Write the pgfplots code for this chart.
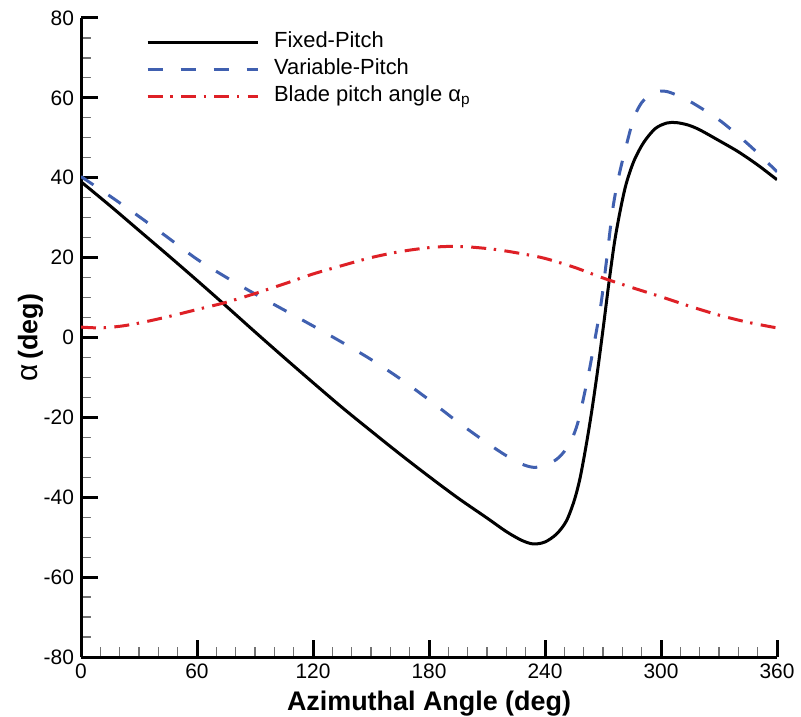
\documentclass[border=0pt]{standalone}
\usepackage{fontspec}
\setmainfont{Liberation Sans}
\usepackage{pgfplots}
\pgfplotsset{compat=1.18}
\definecolor{vpblue}{RGB}{64,96,176}
\definecolor{bpred}{RGB}{222,32,38}
\begin{document}
\begin{tikzpicture}
\begin{axis}[
  at={(0,0)}, anchor=south west,
  scale only axis, width=348bp, height=319.5bp,
  xmin=0, xmax=360, ymin=-80, ymax=80,
  axis x line*=bottom, axis y line*=left,
  xtick={0,60,...,360}, ytick={-80,-60,...,80},
  minor x tick num=5, minor y tick num=3,
  tick align=inside,
  major tick length=8.5bp, minor tick length=5bp,
  axis line style={line width=1.5bp, black},
  major tick style={line width=1.5bp, black},
  minor tick style={line width=0.6bp, black!55},
  tick label style={font=\fontsize{10.5}{12}\selectfont},
  /pgf/number format/assume math mode=true,
  xlabel={\textbf{Azimuthal Angle (deg)}},
  ylabel={{\fontsize{15}{15}\selectfont α}\,\textbf{(deg)}},
  every axis x label/.style={at={(axis description cs:0.5,-0.083)}, anchor=base, font=\fontsize{13.5}{15}\selectfont},
  every axis y label/.style={at={(axis description cs:-0.0726,0.5)}, anchor=center, rotate=90, font=\fontsize{13.5}{15}\selectfont},
  legend image code/.code={\draw (0bp,0bp) -- (55bp,0bp);},
  legend cell align=left,
  legend style={at={(axis description cs:0.093,0.98)}, anchor=north west, draw=none, fill=none,
    inner sep=0pt, row sep=2.5bp, column sep=7.5bp,
    font=\fontsize{11}{13}\selectfont,
    nodes={inner xsep=0pt, inner ysep=0pt, text height=8bp, text depth=3bp}},
]
\addplot[black, line width=1.5bp, smooth] coordinates {
(0,39.0) (15,33.0) (30,26.8) (45,20.6) (60,14.3) (75,7.9) (90,1.4) (105,-5.0)
(120,-11.3) (135,-17.5) (150,-23.4) (165,-29.2) (180,-34.8) (195,-40.2) (210,-45.2)
(220,-48.6) (228,-50.8) (234,-51.7) (240,-51.2) (246,-49.2) (251,-46.0) (255,-41.0)
(258,-35.5) (261,-27.8) (264,-19.0) (267,-9.0) (270,2.0) (273,13.5) (276,24.0)
(279,32.0) (282,38.5) (286,44.2) (291,48.8) (297,52.3) (303,53.7) (308,53.8)
(314,53.2) (320,52.0) (330,49.3) (340,46.5) (350,43.2) (360,39.5)
};
\addlegendentry{Fixed-Pitch}
\addplot[vpblue, line width=1.5bp, smooth, dash pattern=on 7.5bp off 9bp] coordinates {
(0,40.3) (15,35.4) (30,30.3) (45,25.0) (60,19.6) (75,15.1) (90,10.9) (105,6.9)
(120,2.9) (135,-1.2) (150,-5.5) (165,-10.3) (180,-15.6) (195,-21.2) (210,-26.4)
(220,-29.6) (228,-31.7) (234,-32.5) (240,-32.1) (246,-30.5) (250,-28.5) (254,-25.3)
(257,-21.3) (260,-15.0) (263,-8.0) (266,0.0) (269,8.5) (272,20.0) (275,32.0)
(278,40.0) (282,48.0) (286,55.0) (290,58.8) (295,61.0) (300,61.7) (305,61.3)
(315,59.1) (330,54.5) (342,49.7) (350,46.2) (360,41.5)
};
\addlegendentry{Variable-Pitch}
\addplot[bpred, line width=1.5bp, smooth, dash pattern=on 7.5bp off 3.8bp on 1.2bp off 4.2bp] coordinates {
(0,2.6) (10,2.4) (20,2.8) (30,3.6) (45,5.2) (60,7.0) (75,8.8) (90,11.0) (105,13.4)
(120,15.9) (135,18.0) (150,20.0) (165,21.5) (180,22.5) (190,22.8) (200,22.7)
(215,22.0) (230,20.8) (240,19.8) (255,17.6) (270,14.9) (285,12.5) (300,10.2)
(315,7.8) (330,5.6) (345,3.8) (360,2.4)
};
\addlegendentry{Blade pitch angle α\textsubscript{p}}
\end{axis}
\pgfresetboundingbox
\useasboundingbox (-40.5bp,-30bp) rectangle (360bp,328.5bp);
\end{tikzpicture}
\end{document}
